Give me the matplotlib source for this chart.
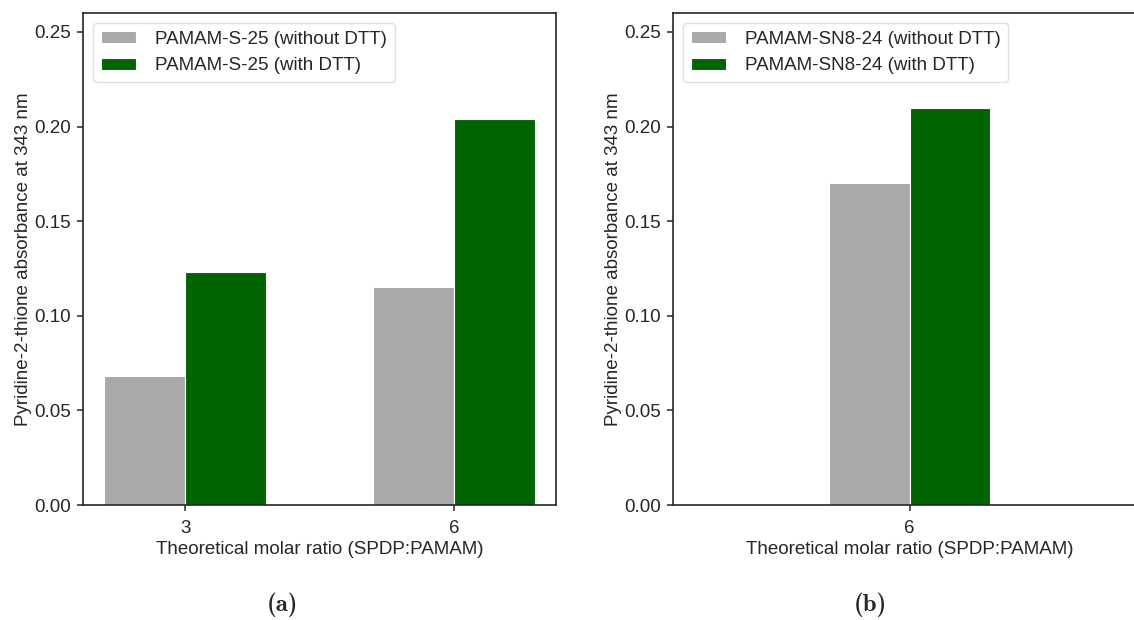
import matplotlib
matplotlib.use('Agg')
import matplotlib.pyplot as plt
import seaborn as sns
import numpy as np

sns.set_style('ticks')
plt.rcParams['font.family'] = ['Liberation Sans', 'DejaVu Sans']

# absorbance of pyridine-2-thione at 343 nm
ratios_s25 = [3, 6]
s25_without = [0.068, 0.115]
s25_with = [0.123, 0.204]

ratios_sn8 = [6]
sn8_without = [0.170]
sn8_with = [0.210]

grey = '#a9a9a9'
green = '#006400'
w = 0.9
fs = 13.5

fig = plt.figure(figsize=(11.34, 6.2), dpi=100)
W, H = 1134., 620.
ax1 = fig.add_axes([83/W, 1 - 505/H, 473/W, 492/H])
ax2 = fig.add_axes([673/W, 1 - 505/H, 473/W, 492/H])

def draw(ax, x, without, withd, name):
    x = np.array(x, dtype=float)
    ax.bar(x - w/2, without, w, color=grey, edgecolor='white', linewidth=0.8,
           label=name + ' (without DTT)')
    ax.bar(x + w/2, withd, w, color=green, edgecolor='white', linewidth=0.8,
           label=name + ' (with DTT)')
    ax.set_xticks(x)
    ax.set_xticklabels([str(int(v)) for v in x])
    ax.set_ylim(0, 0.26)
    ax.set_yticks(np.arange(0, 0.2501, 0.05))
    ax.tick_params(labelsize=fs, length=4.5, width=1.1, colors='#262626', pad=4)
    ax.tick_params(axis='x', pad=6)
    ax.set_xlabel('Theoretical molar ratio (SPDP:PAMAM)', fontsize=fs, labelpad=3)
    ax.set_ylabel('Pyridine-2-thione absorbance at 343 nm', fontsize=fs, labelpad=2)
    for s in ax.spines.values():
        s.set_linewidth(1.2)
        s.set_color('#262626')
    ax.legend(loc='upper left', fontsize=fs, handlelength=1.9, handleheight=0.6,
              handletextpad=1.0, labelspacing=0.5, frameon=True, fancybox=True,
              edgecolor='#d9d9d9', borderaxespad=0.55)

draw(ax1, ratios_s25, s25_without, s25_with, 'PAMAM-S-25')
draw(ax2, ratios_sn8, sn8_without, sn8_with, 'PAMAM-SN8-24')
ax2.set_xlim(3.36, 8.64)

fig.text(282/W, 1 - 605/H, '(a)', ha='center', va='center', fontsize=18,
         family=['cmb10', 'DejaVu Serif'])
fig.text(870/W, 1 - 605/H, '(b)', ha='center', va='center', fontsize=18,
         family=['cmb10', 'DejaVu Serif'])

fig.savefig('out.png', dpi=100)
